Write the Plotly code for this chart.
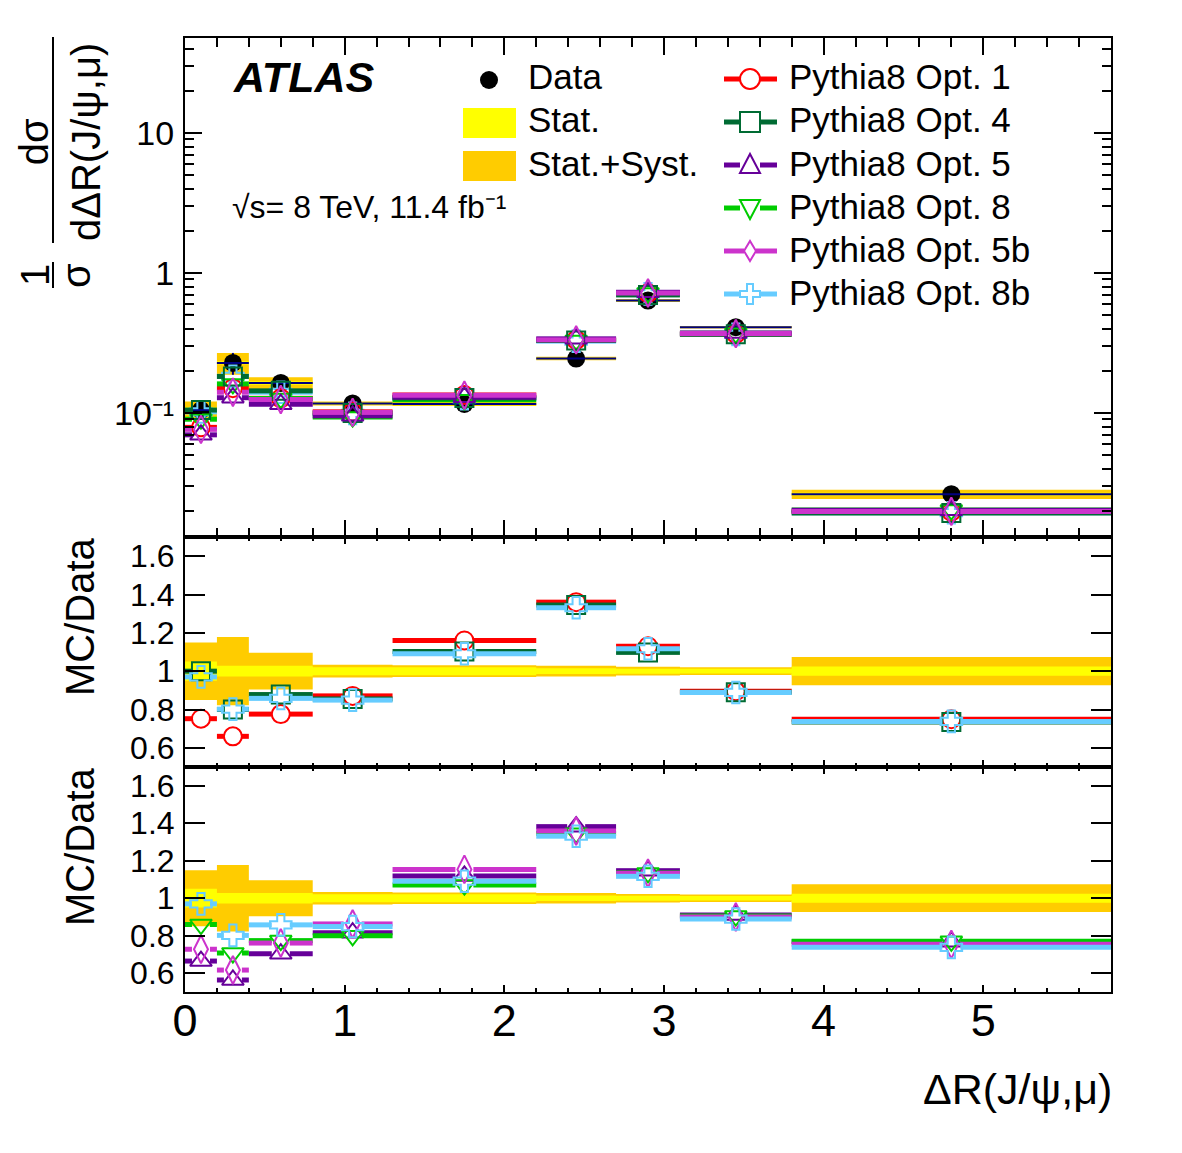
import plotly.graph_objects as go

W, H = 1182, 1153

# ---------------- data ----------------
bin_edges = [0.0, 0.2, 0.4, 0.8, 1.3, 2.2, 2.7, 3.1, 3.8, 5.8]
data_xsec = [0.105, 0.228, 0.164, 0.117, 0.116, 0.245, 0.635, 0.410, 0.0263]
stat_rel = [0.050, 0.028, 0.028, 0.021, 0.021, 0.015, 0.013, 0.012, 0.024]
total_rel = [0.150, 0.178, 0.096, 0.033, 0.031, 0.028, 0.023, 0.020, 0.074]

ratio_opt1 = [0.752, 0.660, 0.776, 0.871, 1.160, 1.360, 1.130, 0.895, 0.749]
ratio_opt4 = [1.000, 0.800, 0.878, 0.855, 1.103, 1.345, 1.098, 0.890, 0.735]
ratio_opt5 = [0.665, 0.564, 0.704, 0.816, 1.119, 1.382, 1.147, 0.911, 0.768]
ratio_opt8 = [0.860, 0.708, 0.774, 0.800, 1.070, 1.346, 1.135, 0.905, 0.770]
ratio_opt5b = [0.728, 0.617, 0.761, 0.863, 1.154, 1.359, 1.133, 0.900, 0.754]
ratio_opt8b = [0.970, 0.802, 0.858, 0.849, 1.091, 1.331, 1.117, 0.889, 0.738]

x_ticks = [0, 1, 2, 3, 4, 5]
ratio_ticks = [0.6, 0.8, 1.0, 1.2, 1.4, 1.6]
ratio_ticktext = ["0.6", "0.8", "1", "1.2", "1.4", "1.6"]
top_ticks = [0.1, 1, 10]
top_ticktext = ["10\u207b\u00b9", "1", "10"]

# ---------------- styles ----------------
FONT = "Liberation Sans, Arial, Helvetica, sans-serif"
NAVY = "#000080"
YELLOW = "#ffff00"
GOLD = "#ffcc00"
STYLES = {
    "Pythia8 Opt. 1": ("#ff0000", "circle-open", 18),
    "Pythia8 Opt. 4": ("#006b33", "square-open", 18),
    "Pythia8 Opt. 5": ("#660099", "triangle-up-open", 19),
    "Pythia8 Opt. 8": ("#00cc00", "triangle-down-open", 19),
    "Pythia8 Opt. 5b": ("#cc33cc", "diamond-tall-open", 20),
    "Pythia8 Opt. 8b": ("#66ccff", "cross-open", 18),
}
ratios = {
    "Pythia8 Opt. 1": ratio_opt1,
    "Pythia8 Opt. 4": ratio_opt4,
    "Pythia8 Opt. 5": ratio_opt5,
    "Pythia8 Opt. 8": ratio_opt8,
    "Pythia8 Opt. 5b": ratio_opt5b,
    "Pythia8 Opt. 8b": ratio_opt8b,
}
legend_order = list(STYLES.keys())
top_draw_order = ["Pythia8 Opt. 8b", "Pythia8 Opt. 1", "Pythia8 Opt. 8",
                  "Pythia8 Opt. 4", "Pythia8 Opt. 5", "Pythia8 Opt. 5b"]
mid_series = ["Pythia8 Opt. 1", "Pythia8 Opt. 4", "Pythia8 Opt. 8b"]
bot_series = ["Pythia8 Opt. 5", "Pythia8 Opt. 8", "Pythia8 Opt. 5b", "Pythia8 Opt. 8b"]


def px(x):
    return x / W


def py(y):
    return 1 - y / H


X_L, X_R = 185, 1111
XMIN, XMAX = 0.0, 5.8
PX_PER_UNIT = (X_R - X_L) / (XMAX - XMIN)
GAP = 9.0 / PX_PER_UNIT   # horizontal line stops at the marker edge

centers = [(bin_edges[i] + bin_edges[i + 1]) / 2 for i in range(len(data_xsec))]


def seg_xy(vals):
    xs, ys = [], []
    for i, v in enumerate(vals):
        lo, hi = bin_edges[i], bin_edges[i + 1]
        c = (lo + hi) / 2
        xs += [lo, max(lo, c - GAP), None, min(hi, c + GAP), hi, None]
        ys += [v, v, None, v, v, None]
    return xs, ys


def full_seg_xy(vals):
    xs, ys = [], []
    for i, v in enumerate(vals):
        xs += [bin_edges[i], bin_edges[i + 1], None]
        ys += [v, v, None]
    return xs, ys


def band_xy(center_vals, rel):
    xs, ys = [], []
    for i, (c, e) in enumerate(zip(center_vals, rel)):
        lo, hi = bin_edges[i], bin_edges[i + 1]
        xs += [lo, hi, hi, lo, lo, None]
        ys += [c * (1 - e), c * (1 - e), c * (1 + e), c * (1 + e), c * (1 - e), None]
    return xs, ys


fig = go.Figure()


def add_bands(center_vals, xa, ya):
    bx, by = band_xy(center_vals, total_rel)
    fig.add_trace(go.Scatter(x=bx, y=by, mode="lines", fill="toself", fillcolor=GOLD,
                             line=dict(width=0, color=GOLD), xaxis=xa, yaxis=ya,
                             name="Stat.+Syst.", showlegend=False, hoverinfo="skip"))
    bx, by = band_xy(center_vals, stat_rel)
    fig.add_trace(go.Scatter(x=bx, y=by, mode="lines", fill="toself", fillcolor=YELLOW,
                             line=dict(width=0, color=YELLOW), xaxis=xa, yaxis=ya,
                             name="Stat.", showlegend=False, hoverinfo="skip"))


def add_mc(name, vals, xa, ya):
    color, sym, size = STYLES[name]
    sx, sy = seg_xy(vals)
    fig.add_trace(go.Scatter(x=sx, y=sy, mode="lines", line=dict(color=color, width=5),
                             xaxis=xa, yaxis=ya, showlegend=False, hoverinfo="skip",
                             name=name))
    fig.add_trace(go.Scatter(x=centers, y=vals, mode="markers",
                             marker=dict(symbol=sym, size=size, color=color,
                                         line=dict(width=2, color=color)),
                             xaxis=xa, yaxis=ya, showlegend=False, name=name))


# ---------------- top panel ----------------
add_bands(data_xsec, "x", "y")
fig.add_trace(go.Scatter(x=centers, y=data_xsec, mode="markers", name="Data",
                         marker=dict(symbol="circle", size=18, color="black"),
                         error_y=dict(type="data", array=[d * t for d, t in zip(data_xsec, total_rel)],
                                      color=NAVY, thickness=2, width=0),
                         xaxis="x", yaxis="y", showlegend=False))
dx, dy = full_seg_xy(data_xsec)
fig.add_trace(go.Scatter(x=dx, y=dy, mode="lines", line=dict(color=NAVY, width=2),
                         xaxis="x", yaxis="y", showlegend=False, hoverinfo="skip"))
for name in top_draw_order:
    mc = [d * r for d, r in zip(data_xsec, ratios[name])]
    add_mc(name, mc, "x", "y")

# ---------------- middle ratio panel ----------------
ones = [1.0] * len(data_xsec)
add_bands(ones, "x2", "y2")
for name in mid_series:
    add_mc(name, ratios[name], "x2", "y2")

# ---------------- bottom ratio panel ----------------
add_bands(ones, "x3", "y3")
for name in bot_series:
    add_mc(name, ratios[name], "x3", "y3")

# ---------------- axes ----------------
XD = [px(X_L), px(X_R)]
TOP_D = [py(537), py(38)]
MID_D = [py(767), py(537)]
BOT_D = [py(992), py(767)]


def xaxis(anchor, ticklen, minorlen, labels):
    return dict(domain=XD, range=[XMIN, XMAX], anchor=anchor, tickmode="array",
                tickvals=x_ticks, ticks="inside", ticklen=ticklen, tickwidth=2,
                tickcolor="black", showline=True, linewidth=2, linecolor="black",
                mirror="ticks", showgrid=False, zeroline=False, automargin=False,
                showticklabels=labels, ticklabelstandoff=-12,
                tickfont=dict(size=45, family=FONT, color="black"),
                minor=dict(ticks="inside", ticklen=minorlen, tickwidth=2, tickcolor="black",
                           tickmode="linear", tick0=0, dtick=0.2, showgrid=False))


def ratio_yaxis(domain, anchor):
    return dict(domain=domain, range=[0.5, 1.7], anchor=anchor, tickmode="array",
                tickvals=ratio_ticks, ticktext=ratio_ticktext, ticks="inside",
                ticklen=20, tickwidth=2, tickcolor="black", showline=True,
                linewidth=2, linecolor="black", mirror="ticks", showgrid=False,
                zeroline=False, ticklabelstandoff=2, automargin=False,
                tickfont=dict(size=32, family=FONT, color="black"))


log_minor = [m * 10.0 ** e for e in (-2, -1, 0, 1) for m in range(2, 10)]

fig.update_layout(
    width=W, height=H, autosize=False,
    margin=dict(l=0, r=0, t=0, b=0, pad=0),
    paper_bgcolor="white", plot_bgcolor="white",
    font=dict(family=FONT, color="black"),
    showlegend=False,
    xaxis=xaxis("y", 17, 9, False),
    xaxis2=xaxis("y2", 7, 4, False),
    xaxis3=xaxis("y3", 7, 4, True),
    yaxis=dict(domain=TOP_D, type="log", range=[-1.8857, 1.6786], anchor="x",
               tickmode="array", tickvals=top_ticks, ticktext=top_ticktext,
               ticks="inside", ticklen=17, tickwidth=2, tickcolor="black",
               showline=True, linewidth=2, linecolor="black", mirror="ticks",
               showgrid=False, zeroline=False, ticklabelstandoff=2, automargin=False,
               tickfont=dict(size=34, family=FONT, color="black"),
               minor=dict(ticks="inside", ticklen=9, tickwidth=2, tickcolor="black",
                          tickmode="array", tickvals=log_minor, showgrid=False)),
    yaxis2=ratio_yaxis(MID_D, "x2"),
    yaxis3=ratio_yaxis(BOT_D, "x3"),
)

# ---------------- text ----------------
ann = []
ann.append(dict(text="<b><i>ATLAS</i></b>", x=px(231), y=py(77), xref="paper", yref="paper",
                xanchor="left", yanchor="middle", showarrow=False,
                font=dict(size=43, family=FONT, color="black")))
ann.append(dict(text="\u221as= 8 TeV, 11.4 fb\u207b\u00b9", x=px(230), y=py(207),
                xref="paper", yref="paper", xanchor="left", yanchor="middle",
                showarrow=False, font=dict(size=32, family=FONT, color="black")))
# y title of the top panel: two rotated fractions
ann.append(dict(text="d\u03c3<br>d\u0394R(J/\u03c8,\u03bc)", x=px(60), y=py(142),
                xref="paper", yref="paper", xanchor="center", yanchor="middle",
                textangle=-90, showarrow=False, align="center",
                font=dict(size=40, family=FONT, color="black")))
for txt, cx, cy in [("1", 35, 275), ("\u03c3", 76, 275)]:
    ann.append(dict(text=txt, x=px(cx), y=py(cy), xref="paper", yref="paper",
                    xanchor="center", yanchor="middle", textangle=-90, showarrow=False,
                    font=dict(size=40, family=FONT, color="black")))
for cy in (617, 847):
    ann.append(dict(text="MC/Data", x=px(80), y=py(cy), xref="paper", yref="paper",
                    xanchor="center", yanchor="middle", textangle=-90, showarrow=False,
                    font=dict(size=40, family=FONT, color="black")))
ann.append(dict(text="\u0394R(J/\u03c8,\u03bc)", x=px(1114), y=py(1089), xref="paper",
                yref="paper", xanchor="right", yanchor="middle", showarrow=False,
                font=dict(size=43, family=FONT, color="black")))

# ---------------- legend (drawn by hand, ROOT style) ----------------
LEG_ROW = 43
leg1_rows = [80 + LEG_ROW * k for k in range(3)]
leg2_rows = [79 + LEG_ROW * k for k in range(6)]
LEG_FONT = dict(size=35, family=FONT, color="black")
for k, txt in enumerate(["Data", "Stat.", "Stat.+Syst."]):
    ann.append(dict(text=txt, x=px(526), y=py(77 + LEG_ROW * k), xref="paper", yref="paper",
                    xanchor="left", yanchor="middle", showarrow=False, font=LEG_FONT))
for k, name in enumerate(legend_order):
    ann.append(dict(text=name, x=px(787), y=py(77 + LEG_ROW * k), xref="paper", yref="paper",
                    xanchor="left", yanchor="middle", showarrow=False, font=LEG_FONT))
fig.update_layout(annotations=ann)

shapes = [
    # fraction bars of the y title
    dict(type="line", xref="paper", yref="paper", x0=px(53), x1=px(53), y0=py(37), y1=py(243),
         line=dict(color="black", width=2)),
    dict(type="line", xref="paper", yref="paper", x0=px(53), x1=px(53), y0=py(262), y1=py(288),
         line=dict(color="black", width=2)),
    # legend 1 keys
    dict(type="circle", xref="paper", yref="paper", xsizemode="pixel", ysizemode="pixel",
         xanchor=px(489), yanchor=py(leg1_rows[0]), x0=-9, x1=9, y0=-9, y1=9,
         fillcolor="black", line=dict(width=0)),
    dict(type="rect", xref="paper", yref="paper", x0=px(463), x1=px(516),
         y0=py(leg1_rows[1] - 15), y1=py(leg1_rows[1] + 15), fillcolor=YELLOW, line=dict(width=0)),
    dict(type="rect", xref="paper", yref="paper", x0=px(463), x1=px(516),
         y0=py(leg1_rows[2] - 15), y1=py(leg1_rows[2] + 15), fillcolor=GOLD, line=dict(width=0)),
]

# marker glyph outlines (pixel units, y up)
GLYPHS = {
    "circle-open": None,
    "square-open": "M-10,-10 L10,-10 L10,10 L-10,10 Z",
    "triangle-up-open": "M-10,-8 L10,-8 L0,11 Z",
    "triangle-down-open": "M-10,8 L10,8 L0,-11 Z",
    "diamond-tall-open": "M0,-10 L6,0 L0,10 L-6,0 Z",
    "cross-open": "M-3,-10 L3,-10 L3,-3 L10,-3 L10,3 L3,3 L3,10 L-3,10 L-3,3 L-10,3 L-10,-3 L-3,-3 Z",
}
LX0, LX1, LXC = 724, 777, 750
for name, ry in zip(legend_order, leg2_rows):
    color, sym, size = STYLES[name]
    half = 6 if sym == "diamond-tall-open" else 10
    for a, b in ((LX0, LXC - half), (LXC + half, LX1)):
        shapes.append(dict(type="line", xref="paper", yref="paper", x0=px(a), x1=px(b),
                           y0=py(ry), y1=py(ry), line=dict(color=color, width=5)))
    if GLYPHS[sym] is None:
        shapes.append(dict(type="circle", xref="paper", yref="paper", xsizemode="pixel",
                           ysizemode="pixel", xanchor=px(LXC), yanchor=py(ry),
                           x0=-10, x1=10, y0=-10, y1=10, line=dict(color=color, width=2)))
    else:
        shapes.append(dict(type="path", xref="paper", yref="paper", xsizemode="pixel",
                           ysizemode="pixel", xanchor=px(LXC), yanchor=py(ry),
                           path=GLYPHS[sym], line=dict(color=color, width=2)))
fig.update_layout(shapes=shapes)

fig.write_html("out.html")
